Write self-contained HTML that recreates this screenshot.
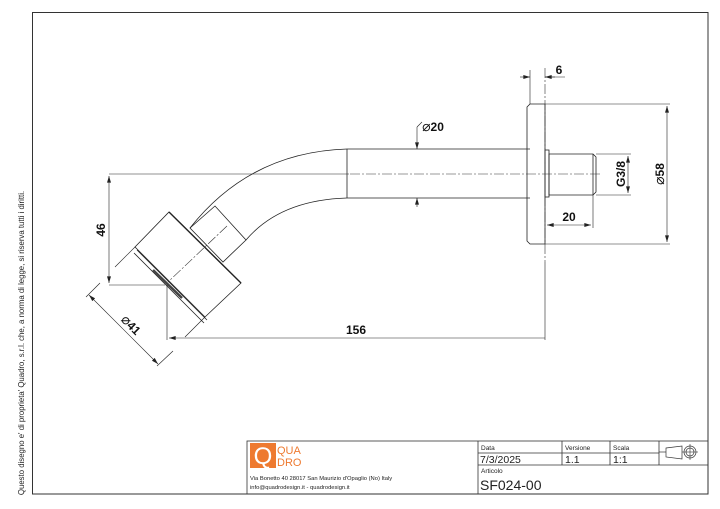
<!DOCTYPE html>
<html><head><meta charset="utf-8"><style>
html,body{margin:0;padding:0;background:#fff;}
svg{display:block;font-family:"Liberation Sans",sans-serif;}
</style></head><body>
<svg width="720" height="509" viewBox="0 0 720 509" xmlns="http://www.w3.org/2000/svg">
<defs>
<marker id="a" viewBox="0 0 10 6" refX="10" refY="3" markerWidth="7" markerHeight="4" orient="auto-start-reverse" markerUnits="userSpaceOnUse"><path d="M0,0L10,3L0,6z" fill="#222"/></marker>
</defs>
<rect width="720" height="509" fill="#fff"/>
<rect x="32.5" y="12.5" width="675.5" height="481.5" fill="none" stroke="#333" stroke-width="1"/>
<text transform="translate(24,343) rotate(-90)" font-size="7.8" text-anchor="middle" fill="#222">Questo disegno e' di proprieta' Quadro, s.r.l. che, a norma di legge, si riserva tutti i diritti.</text>

<g fill="none" stroke="#222" stroke-width="0.8">
<line x1="347" y1="149" x2="530" y2="149"/>
<line x1="347" y1="198" x2="530" y2="198"/>
<line x1="347" y1="149" x2="347" y2="198"/>
<path d="M347,149 Q250,152 190,228"/>
<path d="M347,198 Q280,200 246,240"/>
<polygon points="190,228 215,206 246,240 223,262"/>
<polygon points="169,212 241,283 205,317 135,247"/>
<line x1="169" y1="212" x2="241" y2="283" stroke-width="1.4"/>
<line x1="137" y1="250" x2="207" y2="320"/>
<line x1="134" y1="253" x2="204" y2="323"/>
<line x1="153" y1="270" x2="182" y2="298" stroke-width="2.5" stroke="#444"/>
<path d="M530,104 L545,104 L545,244 L530,244 L527,241 L527,107 Z"/>
<rect x="545" y="150" width="4" height="47"/>
<path d="M549,154 L593,154 L596,157 L596,192 L593,195 L549,195 Z"/>
<line x1="593" y1="154" x2="593" y2="195"/>
</g>

<g stroke="#333" stroke-width="0.6" stroke-dasharray="10,2,2,2" fill="none">
<line x1="350" y1="174" x2="600" y2="174"/>
<line x1="545" y1="68" x2="545" y2="262"/>
<line x1="227" y1="226" x2="168" y2="282"/>
</g>

<g stroke="#222" stroke-width="0.6" fill="none">
<line x1="109" y1="174" x2="349" y2="174"/>
<line x1="109" y1="285" x2="165" y2="285"/>
<line x1="109" y1="176" x2="109" y2="283" marker-start="url(#a)" marker-end="url(#a)"/>
<line x1="167" y1="285" x2="167" y2="340"/>
<line x1="169" y1="338" x2="545" y2="338" marker-start="url(#a)"/>
<line x1="545" y1="262" x2="545" y2="340"/>
<line x1="135" y1="247" x2="115" y2="267"/>
<line x1="205" y1="317" x2="185" y2="337"/>
<line x1="100" y1="283" x2="86" y2="297"/>
<line x1="173" y1="351" x2="157" y2="366"/>
<line x1="89" y1="295" x2="158" y2="364" marker-start="url(#a)" marker-end="url(#a)"/>
<line x1="530" y1="70" x2="530" y2="104"/>
<line x1="520" y1="77" x2="530" y2="77" marker-end="url(#a)"/>
<line x1="555" y1="77" x2="545" y2="77" marker-end="url(#a)"/>
<line x1="545" y1="77" x2="565" y2="77"/>
<line x1="417" y1="127" x2="417" y2="149" marker-end="url(#a)"/>
<line x1="417" y1="127" x2="422" y2="122"/>
<line x1="417" y1="207" x2="417" y2="198" marker-end="url(#a)"/>
<line x1="545" y1="104" x2="670" y2="104"/>
<line x1="545" y1="244" x2="670" y2="244"/>
<line x1="667" y1="106" x2="667" y2="242" marker-start="url(#a)" marker-end="url(#a)"/>
<line x1="596" y1="154" x2="631" y2="154"/>
<line x1="596" y1="195" x2="631" y2="195"/>
<line x1="628" y1="156" x2="628" y2="193" marker-start="url(#a)" marker-end="url(#a)"/>
<line x1="593" y1="195" x2="593" y2="228"/>
<line x1="547" y1="225" x2="591" y2="225" marker-start="url(#a)" marker-end="url(#a)"/>
</g>
<g font-size="12" fill="#111" font-weight="bold" text-anchor="middle">
<text transform="translate(105,230) rotate(-90)">46</text>
<text x="356" y="334">156</text>
<text transform="translate(128,328) rotate(45)"><tspan font-weight="normal" font-size="14">⌀</tspan>41</text>
<text x="559" y="74">6</text>
<text x="433" y="131"><tspan font-weight="normal" font-size="14">⌀</tspan>20</text>
<text x="569" y="221">20</text>
<text transform="translate(625,174) rotate(-90)">G3/8</text>
<text transform="translate(664,174) rotate(-90)"><tspan font-weight="normal" font-size="14">⌀</tspan>58</text>
</g>

<g fill="none" stroke="#333" stroke-width="0.8">
<rect x="247" y="441" width="461" height="53"/>
<line x1="478" y1="441" x2="478" y2="494"/>
<line x1="478" y1="465" x2="708" y2="465"/>
<line x1="478" y1="453" x2="659" y2="453"/>
<line x1="562" y1="441" x2="562" y2="465"/>
<line x1="610" y1="441" x2="610" y2="465"/>
<line x1="659" y1="441" x2="659" y2="465"/>
<path d="M666,448 L682,446 L682,459 L666,457 Z" stroke-width="0.7"/>
<line x1="659" y1="452" x2="666" y2="452" stroke-width="0.7"/>
<circle cx="690" cy="452" r="6" stroke-width="0.7"/>
<circle cx="690" cy="452" r="4" stroke-width="0.7"/>
<line x1="682" y1="452" x2="698" y2="452" stroke-width="0.6"/>
<line x1="690" y1="444" x2="690" y2="460" stroke-width="0.6"/>
</g>
<rect x="250" y="443" width="26" height="25" fill="#ee7a30"/>
<text x="263" y="464" font-size="24" fill="#fff" text-anchor="middle">Q</text>
<text x="277" y="454" font-size="11" fill="#ee7a30">QUA</text>
<text x="277" y="466" font-size="11" fill="#ee7a30">DRO</text>
<text x="250" y="480" font-size="5.8" fill="#222">Via Bonetto 40  28017 San Maurizio d'Opaglio (No) Italy</text>
<text x="250" y="489" font-size="5.8" fill="#222">info@quadrodesign.it  -  quadrodesign.it</text>
<g fill="#222">
<text x="481" y="450" font-size="6.5">Data</text>
<text x="565" y="450" font-size="6.5">Versione</text>
<text x="613" y="450" font-size="6.5">Scala</text>
<text x="480" y="463" font-size="10.5">7/3/2025</text>
<text x="565" y="463" font-size="10.5">1.1</text>
<text x="613" y="463" font-size="10.5">1:1</text>
<text x="481" y="473" font-size="6.5">Articolo</text>
<text x="480" y="490" font-size="14">SF024-00</text>
</g>
</svg>
</body></html>
